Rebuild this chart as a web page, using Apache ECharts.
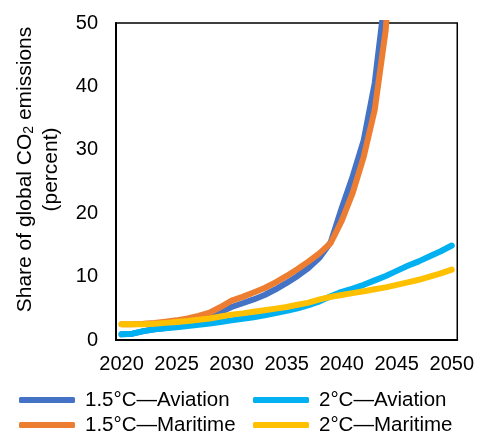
<!DOCTYPE html>
<html>
<head>
<meta charset="utf-8">
<script src="https://cdn.jsdelivr.net/npm/echarts@6/dist/echarts.min.js"></script>
<style>
html,body{margin:0;padding:0;background:#fff;}
#chart{width:477px;height:434px;}
</style>
</head>
<body>
<div id="chart"></div>
<script>
const years = [];
for (let y = 2020; y <= 2050; y++) years.push(String(y));

const seriesNames = ['1.5°C—Aviation', '1.5°C—Maritime', '2°C—Aviation', '2°C—Maritime'];

const aviation15 = [0.9, 1.0, 1.4, 1.7, 1.9, 2.2, 2.6, 3.1, 3.7, 4.4, 5.2, 5.8, 6.4, 7.1, 8.0, 9.0, 10.1, 11.4, 13.0, 15.4, 20.8, 25.8, 31.5, 40.5, 55.0, null, null, null, null, null, null];
const maritime15 = [2.5, 2.5, 2.55, 2.7, 2.9, 3.1, 3.4, 3.8, 4.3, 5.2, 6.2, 6.8, 7.5, 8.2, 9.1, 10.1, 11.2, 12.4, 13.7, 15.3, 18.8, 23.2, 28.9, 36.3, 48.9, 75.0, null, null, null, null, null];
const aviation2 = [0.9, 1.0, 1.4, 1.7, 1.85, 2.0, 2.2, 2.4, 2.6, 2.85, 3.1, 3.35, 3.6, 3.9, 4.25, 4.6, 5.0, 5.5, 6.1, 6.9, 7.6, 8.1, 8.7, 9.4, 10.1, 10.9, 11.7, 12.4, 13.2, 14.0, 14.9];
const maritime2 = [2.5, 2.5, 2.5, 2.55, 2.7, 2.85, 3.0, 3.2, 3.4, 3.7, 4.0, 4.2, 4.45, 4.7, 4.95, 5.2, 5.55, 5.9, 6.4, 6.8, 7.1, 7.4, 7.7, 8.0, 8.3, 8.7, 9.1, 9.5, 10.0, 10.5, 11.1];

const colors = ['#4472C4', '#ED7D31', '#00B0F0', '#FFC000'];
const dataSets = [aviation15, maritime15, aviation2, maritime2];

const font = 'Liberation Sans, Arial, sans-serif';
const chart = echarts.init(document.getElementById('chart'));

function mkSeries(i) {
  return {
    name: seriesNames[i],
    type: 'line',
    data: dataSets[i],
    symbol: 'none',
    smooth: false,
    clip: true,
    connectNulls: false,
    color: colors[i],
    lineStyle: { width: 6, color: colors[i], cap: 'round', join: 'round' },
    emphasis: { disabled: true }
  };
}

const legendCommon = {
  orient: 'vertical',
  icon: 'roundRect',
  itemWidth: 56,
  itemHeight: 6,
  itemGap: 3,
  top: 384,
  height: 80,
  textStyle: { fontFamily: font, fontSize: 20.5, color: '#000', padding: [0, 0, 0, 5], lineHeight: 22 },
  selectedMode: false
};

chart.setOption({
  animation: false,
  backgroundColor: '#fff',
  grid: {
    left: 116, right: 19, top: 23, bottom: 94,
    show: true, borderColor: '#000', borderWidth: 1.5, containLabel: false
  },
  legend: [
    Object.assign({}, legendCommon, { left: 14, data: [seriesNames[0], seriesNames[1]] }),
    Object.assign({}, legendCommon, { left: 248, data: [seriesNames[2], seriesNames[3]] })
  ],
  xAxis: {
    type: 'category',
    data: years,
    boundaryGap: true,
    axisLine: { lineStyle: { color: '#000', width: 2 } },
    axisTick: { show: false },
    axisLabel: { interval: 4, color: '#000', fontFamily: font, fontSize: 20, margin: 14 },
    splitLine: { show: false }
  },
  yAxis: {
    type: 'value',
    min: 0, max: 50, interval: 10,
    axisLine: { show: true, lineStyle: { color: '#000', width: 2 } },
    axisTick: { show: false },
    axisLabel: { color: '#000', fontFamily: font, fontSize: 20, margin: 18 },
    splitLine: { show: false },
    name: '{a|Share of global CO}{s|2}{a| emissions}\n{a|(percent)}',
    nameLocation: 'middle',
    nameRotate: 90,
    nameGap: 52,
    nameTextStyle: {
      align: 'center',
      padding: [0, 0, 0, 24],
      lineHeight: 26,
      rich: {
        a: { fontFamily: font, fontSize: 21, color: '#000', lineHeight: 26 },
        s: { fontFamily: font, fontSize: 14, color: '#000', padding: [9, 0, 0, 0], lineHeight: 26 }
      }
    }
  },
  series: [0, 1, 2, 3].map(mkSeries)
});
</script>
</body>
</html>
